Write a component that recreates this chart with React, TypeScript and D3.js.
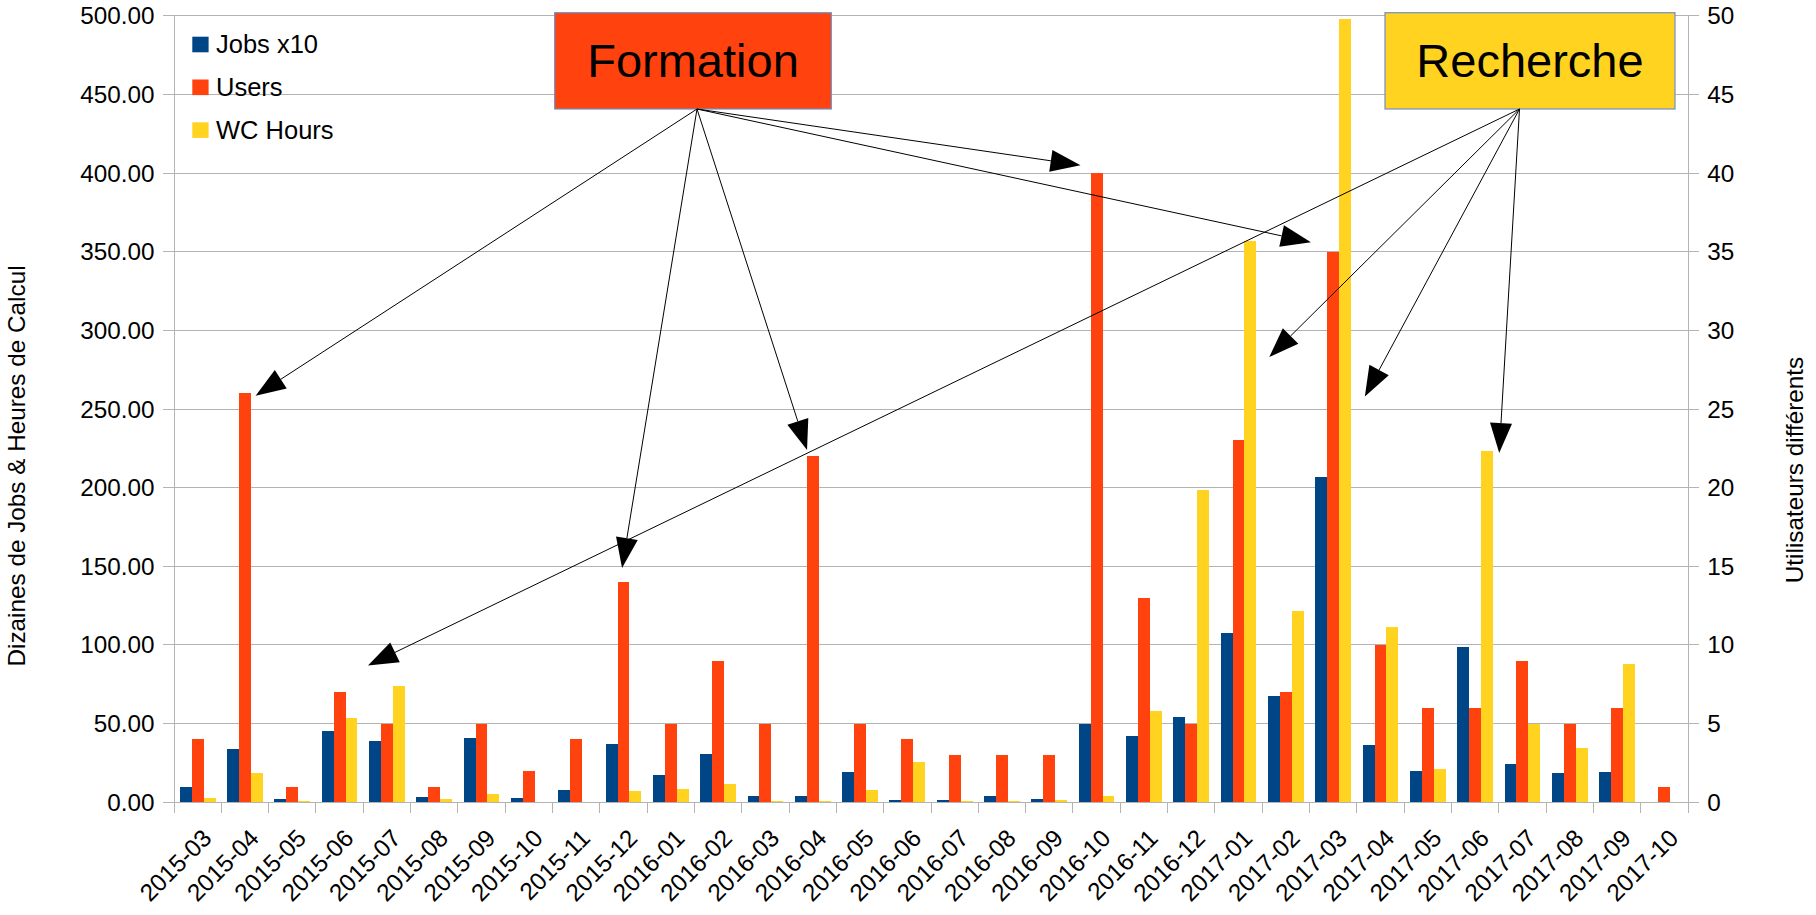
import React from "react";
import * as d3 from "d3";

// Monthly activity of the compute cluster
const months = [
  "2015-03", "2015-04", "2015-05", "2015-06", "2015-07", "2015-08", "2015-09", "2015-10",
  "2015-11", "2015-12", "2016-01", "2016-02", "2016-03", "2016-04", "2016-05", "2016-06",
  "2016-07", "2016-08", "2016-09", "2016-10", "2016-11", "2016-12", "2017-01", "2017-02",
  "2017-03", "2017-04", "2017-05", "2017-06", "2017-07", "2017-08", "2017-09", "2017-10",
];

// Left axis: tens of jobs
const jobsX10 = [
  10, 34, 2.3, 45.6, 39.2, 3.6, 41, 3, 8.1, 37.2, 17.5, 30.8, 4.2, 4.2, 19.4, 1.7,
  1.7, 4.2, 2.3, 49.8, 42.2, 54.2, 107.8, 67.8, 206.5, 36.7, 20.1, 98.9, 24.6, 18.9, 19.5, 0.5,
];

// Right axis: distinct users
const users = [
  4, 26, 1, 7, 5, 1, 5, 2, 4, 14, 5, 9, 5, 22, 5, 4,
  3, 3, 3, 40, 13, 5, 23, 7, 35, 10, 6, 6, 9, 5, 6, 1,
];

// Left axis: wall-clock hours (tens)
const wcHours = [
  3, 18.9, 1.1, 53.8, 74.2, 2.3, 5.5, 0.4, 0.4, 7.4, 8.6, 11.8, 1.1, 1.1, 8, 25.7,
  1.1, 1.1, 1.7, 4.2, 58, 198.4, 356.5, 121.8, 498, 111.7, 21.4, 223.2, 50, 34.7, 88.1, 0.3,
];

const seriesNames = ["Jobs x10", "Users", "WC Hours"];
const leftTicks = [0, 50, 100, 150, 200, 250, 300, 350, 400, 450, 500];
const rightTicks = [0, 5, 10, 15, 20, 25, 30, 35, 40, 45, 50];

// Annotation callouts: arrow targets given as month, position within the month slot, left-axis value
const formationTargets = [
  { month: "2015-04", offset: 0.725, value: 258.5 },
  { month: "2015-12", offset: 0.47, value: 149 },
  { month: "2016-04", offset: 0.38, value: 224 },
  { month: "2016-10", offset: 0.16, value: 405 },
  { month: "2017-03", offset: 0.03, value: 356 },
];
const rechercheTargets = [
  { month: "2015-07", offset: 0.1, value: 87 },
  { month: "2017-02", offset: 0.15, value: 283 },
  { month: "2017-04", offset: 0.17, value: 258 },
  { month: "2017-07", offset: 0.01, value: 222 },
];

const COLORS = ["#004586", "#ff420e", "#ffd320"];
const GRID = "#b3b3b3";
const FONT = "'Liberation Sans', Arial, sans-serif";

const W = 1816;
const H = 915;
const plot = { left: 174, right: 1688, top: 15.7, bottom: 802.3 };

export default function App() {
  const x = d3
    .scaleBand<string>()
    .domain(months)
    .range([plot.left, plot.right])
    .paddingInner(0.245)
    .paddingOuter(0.1225);
  const xs = d3.scaleBand<string>().domain(seriesNames).range([0, x.bandwidth()]);
  const yL = d3.scaleLinear().domain([0, 500]).range([plot.bottom, plot.top]);
  const yR = d3.scaleLinear().domain([0, 50]).range([plot.bottom, plot.top]);

  const step = x.step();
  const slotStart = (m: string) => (x(m) as number) - (step - x.bandwidth()) / 2;
  const slotCenter = (m: string) => slotStart(m) + step / 2;

  const series = [
    { name: seriesNames[0], values: jobsX10, y: yL },
    { name: seriesNames[1], values: users, y: yR },
    { name: seriesNames[2], values: wcHours, y: yL },
  ];

  const boundaries = d3.range(months.length + 1).map((i) => plot.left + i * step);

  const callouts = [
    {
      label: "Formation",
      fill: "#ff420e",
      box: { x0: 554.7, x1: 831.3, y0: 12.7, y1: 109 },
      origin: [697, 109],
      targets: formationTargets,
    },
    {
      label: "Recherche",
      fill: "#ffd320",
      box: { x0: 1385, x1: 1675, y0: 12.7, y1: 109 },
      origin: [1519.5, 109],
      targets: rechercheTargets,
    },
  ];

  const headLen = 30;
  const headHalf = 11;

  return (
    <svg
      width={W}
      height={H}
      style={{ position: "absolute", left: 0, top: 0, background: "#fff" }}
      fontFamily={FONT}
    >
      {/* horizontal gridlines */}
      <g shapeRendering="crispEdges">
        {leftTicks.map((t) => (
          <line key={t} x1={plot.left - 11} x2={plot.right + 11} y1={yL(t)} y2={yL(t)} stroke={GRID} strokeWidth={1} />
        ))}
        <line x1={plot.left} x2={plot.left} y1={plot.top} y2={plot.bottom} stroke={GRID} />
        <line x1={plot.right} x2={plot.right} y1={plot.top} y2={plot.bottom} stroke={GRID} />
        {boundaries.map((bx, i) => (
          <line key={i} x1={bx} x2={bx} y1={plot.bottom} y2={plot.bottom + 11} stroke={GRID} />
        ))}
      </g>

      {/* bars */}
      <g shapeRendering="crispEdges">
        {series.map((s, si) =>
          months.map((m, i) => {
            const v = s.values[i];
            const y0 = s.y(v);
            return (
              <rect
                key={s.name + m}
                x={(x(m) as number) + (xs(s.name) as number)}
                y={y0}
                width={xs.bandwidth()}
                height={plot.bottom - y0}
                fill={COLORS[si]}
              />
            );
          })
        )}
      </g>

      {/* left axis labels */}
      <g fontSize={24.3} fill="#000" textAnchor="end">
        {leftTicks.map((t) => (
          <text key={t} x={154.5} y={yL(t)} dy="0.35em">
            {t.toFixed(2)}
          </text>
        ))}
      </g>
      {/* right axis labels */}
      <g fontSize={24.3} fill="#000" textAnchor="start">
        {rightTicks.map((t) => (
          <text key={t} x={1707.3} y={yR(t)} dy="0.35em">
            {t}
          </text>
        ))}
      </g>
      {/* month labels */}
      <g fontSize={24.3} fill="#000" textAnchor="end">
        {months.map((m) => (
          <text key={m} transform={`translate(${slotCenter(m) + 3},${plot.bottom + 25}) rotate(-45)`} dy="0.72em">
            {m}
          </text>
        ))}
      </g>

      {/* axis titles */}
      <text transform="translate(25,466) rotate(-90)" textAnchor="middle" fontSize={24.3}>
        Dizaines de Jobs &amp; Heures de Calcul
      </text>
      <text transform="translate(1803,470) rotate(-90)" textAnchor="middle" fontSize={24.3}>
        Utilisateurs différents
      </text>

      {/* legend */}
      <g fontSize={25.5}>
        {seriesNames.map((n, i) => (
          <g key={n} transform={`translate(192.3,${36.7 + i * 42.8})`}>
            <rect width={16.3} height={15.6} fill={COLORS[i]} />
            <text x={23.7} y={16.6}>{n}</text>
          </g>
        ))}
      </g>

      {/* callout boxes and arrows */}
      {callouts.map((c) => (
        <g key={c.label}>
          <rect
            x={c.box.x0}
            y={c.box.y0}
            width={c.box.x1 - c.box.x0}
            height={c.box.y1 - c.box.y0}
            fill={c.fill}
            stroke="#6f8fc8"
            strokeWidth={1.2}
          />
          <text x={(c.box.x0 + c.box.x1) / 2} y={77} textAnchor="middle" fontSize={47}>
            {c.label}
          </text>
          {c.targets.map((t, i) => {
            const tx = slotStart(t.month) + t.offset * step;
            const ty = yL(t.value);
            const [ox, oy] = c.origin;
            const dx = tx - ox;
            const dy = ty - oy;
            const len = Math.hypot(dx, dy);
            const ux = dx / len;
            const uy = dy / len;
            const bx = tx - ux * headLen;
            const by = ty - uy * headLen;
            const pts = [
              [tx, ty],
              [bx - uy * headHalf, by + ux * headHalf],
              [bx + uy * headHalf, by - ux * headHalf],
            ];
            return (
              <g key={i}>
                <line x1={ox} y1={oy} x2={bx} y2={by} stroke="#000" strokeWidth={1} />
                <polygon points={pts.map((p) => p.join(",")).join(" ")} fill="#000" />
              </g>
            );
          })}
        </g>
      ))}
    </svg>
  );
}
